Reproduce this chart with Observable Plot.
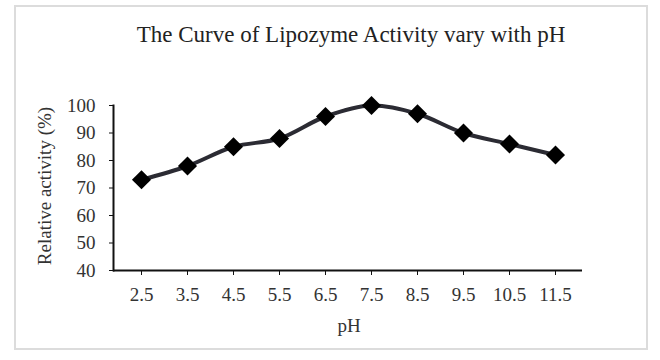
<!DOCTYPE html>
<html>
<head>
<meta charset="utf-8">
<script src="https://cdn.jsdelivr.net/npm/d3@7"></script>
<script src="https://cdn.jsdelivr.net/npm/@observablehq/plot@0.6"></script>
<style>
  html, body { margin: 0; padding: 0; background: #fff; }
  #wrap { position: relative; width: 660px; height: 360px; }
  #border { position: absolute; left: 14px; top: 5px; width: 630px; height: 341px; border: 2px solid #dcdcdc; pointer-events: none; }
</style>
</head>
<body>
<div id="wrap"><div id="border"></div></div>
<script>
const title = "The Curve of Lipozyme Activity vary with pH";
const xTitle = "pH";
const yTitle = "Relative activity (%)";
const phLabels = ["2.5", "3.5", "4.5", "5.5", "6.5", "7.5", "8.5", "9.5", "10.5", "11.5"];
const activity = [73, 78, 85, 88, 96, 100, 97, 90, 86, 82];
const yTicks = [40, 50, 60, 70, 80, 90, 100];

const data = phLabels.map((p, i) => ({ph: p, v: activity[i]}));

const chart = Plot.plot({
  width: 660,
  height: 360,
  marginLeft: 113,
  marginRight: 78,
  marginTop: 105,
  marginBottom: 90,
  style: { fontFamily: "'Liberation Serif', 'Times New Roman', serif", fontSize: "19px", color: "#333", background: "transparent" },
  x: { type: "band", domain: phLabels, padding: 0 },
  y: { domain: [40, 100] },
  marks: [
    Plot.ruleY([40], { stroke: "#111", strokeWidth: 2 }),
    Plot.frame({ anchor: "left", stroke: "#111", strokeWidth: 2 }),
    Plot.axisY({ ticks: yTicks, tickSize: 4, tickPadding: 14, stroke: "#111", label: null, fontSize: 19, fill: "#333" }),
    Plot.axisX({ tickSize: 5, tickPadding: 12, stroke: "#111", label: null, fontSize: 19, fill: "#333", style: { letterSpacing: "0.6px" } }),
    Plot.line(data, { x: "ph", y: "v", stroke: "#2b2b33", strokeWidth: 4, curve: "catmull-rom" }),
    Plot.dot(data, { x: "ph", y: "v", symbol: "diamond2", r: 8.6, fill: "#000", stroke: "none" }),
    Plot.text([title], { frameAnchor: "top", lineAnchor: "top", dy: -80, dx: 3, fontSize: 23, fill: "#222", text: d => d }),
    Plot.text([xTitle], { frameAnchor: "bottom", lineAnchor: "middle", dy: 55, dx: 1, fontSize: 19, fill: "#333", text: d => d }),
    Plot.text([yTitle], { frameAnchor: "left", textAnchor: "middle", lineAnchor: "middle", rotate: -90, dx: -69, dy: -2, fontSize: 19, fill: "#333", text: d => d })
  ]
});
document.getElementById("wrap").prepend(chart);
chart.style.position = "absolute";
chart.style.left = "0px";
chart.style.top = "0px";
</script>
</body>
</html>
